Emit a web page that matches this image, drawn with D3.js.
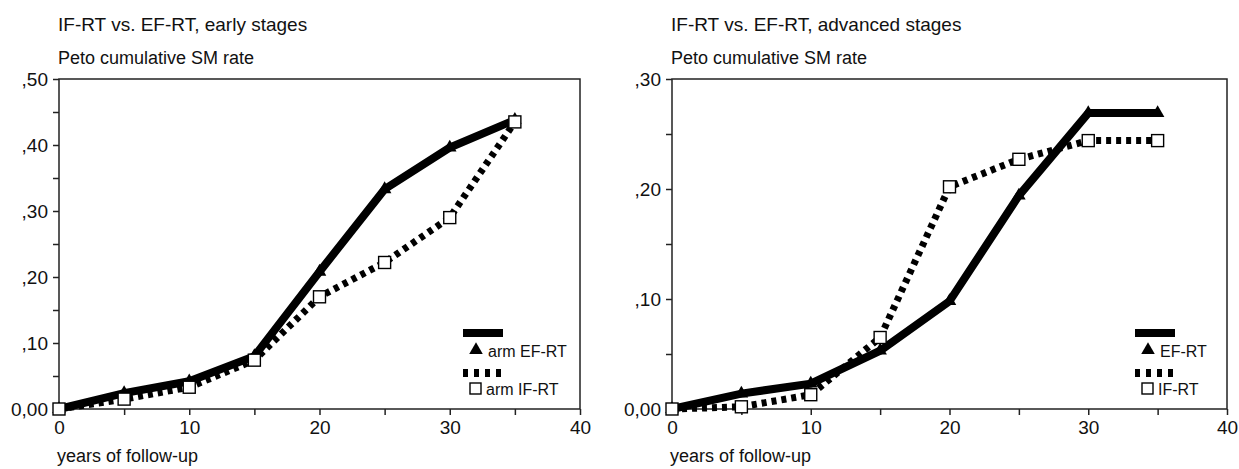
<!DOCTYPE html>
<html>
<head>
<meta charset="utf-8">
<script src="https://cdn.jsdelivr.net/npm/d3@7"></script>
<style>
  body { margin: 0; background: #fff; }
  svg text { font-family: "Liberation Sans", Arial, sans-serif; fill: #111; }
</style>
</head>
<body>
<svg id="chart" width="1239" height="469"></svg>
<script>
// data
const years      = [0, 5, 10, 15, 20, 25, 30, 35];
const earlyEF    = [0, 0.024, 0.042, 0.080, 0.208, 0.333, 0.396, 0.438];
const earlyIF    = [0, 0.015, 0.033, 0.074, 0.170, 0.222, 0.290, 0.435];
const advancedEF = [0, 0.014, 0.023, 0.053, 0.098, 0.194, 0.269, 0.269];
const advancedIF = [0, 0.002, 0.013, 0.065, 0.202, 0.227, 0.244, 0.244];

const titles      = ["IF-RT vs. EF-RT, early stages", "IF-RT vs. EF-RT, advanced stages"];
const yLabel      = "Peto cumulative SM rate";
const xLabel      = "years of follow-up";
const earlyLegend = ["arm EF-RT", "arm IF-RT"];
const advLegend   = ["EF-RT", "IF-RT"];
const yMax        = [0.5, 0.3];
const xTicks      = [0, 10, 20, 30, 40];

const svg = d3.select("#chart");

// panel layout
const panels = [
  { title: titles[0], ef: earlyEF, iF: earlyIF, ymax: yMax[0], legend: earlyLegend,
    x0: 59, x1: 580, legendX: 463 },
  { title: titles[1], ef: advancedEF, iF: advancedIF, ymax: yMax[1], legend: advLegend,
    x0: 672, x1: 1227, legendX: 1135 }
];
const plotTop = 79, plotBottom = 409;

panels.forEach(p => drawPanel(p));

function fmtY(d) {
  if (d === 0) return "0,00";
  return "," + d3.format(".2f")(d).split(".")[1];
}

function drawPanel(p) {
  const x = d3.scaleLinear().domain([0, 40]).range([p.x0, p.x1]);
  const y = d3.scaleLinear().domain([0, p.ymax]).range([plotBottom, plotTop]);
  const g = svg.append("g");

  // titles
  g.append("text").attr("x", p.x0 - 1).attr("y", 31)
    .style("font-size", "19px").text(p.title);
  g.append("text").attr("x", p.x0 - 1).attr("y", 64)
    .style("font-size", "18px").text(yLabel);

  // frame
  g.append("rect")
    .attr("x", p.x0).attr("y", plotTop)
    .attr("width", p.x1 - p.x0).attr("height", plotBottom - plotTop)
    .attr("fill", "none").attr("stroke", "#222").attr("stroke-width", 1.5);

  // y axis: minor ticks every .05, labels every .10
  const yTicks = d3.range(0, p.ymax + 0.001, 0.05);
  const yAxis = d3.axisLeft(y).tickValues(yTicks).tickSize(6).tickPadding(5)
    .tickFormat(d => Math.round(d * 100) % 10 === 0 ? fmtY(Math.round(d * 100) / 100) : "");
  const ya = g.append("g").attr("transform", `translate(${p.x0},0)`).call(yAxis);
  ya.select(".domain").remove();
  ya.selectAll("line").attr("stroke", "#222").attr("stroke-width", 1.5);
  ya.selectAll("text").style("font-size", "19px").attr("fill", "#111");

  // x axis
  const xAxis = d3.axisBottom(x).tickValues(d3.range(0, 41, 5)).tickSize(6).tickPadding(6)
    .tickFormat(d => xTicks.includes(d) ? d : "");
  const xa = g.append("g").attr("transform", `translate(0,${plotBottom})`).call(xAxis);
  xa.select(".domain").remove();
  xa.selectAll("line").attr("stroke", "#222").attr("stroke-width", 1.5);
  xa.selectAll("text").style("font-size", "19px").attr("fill", "#111");

  g.append("text").attr("x", p.x0 - 2).attr("y", 462)
    .style("font-size", "18px").text(xLabel);

  const line = d3.line().x((d, i) => x(years[i])).y(d => y(d));

  // IF-RT dashed
  g.append("path").datum(p.iF).attr("d", line)
    .attr("fill", "none").attr("stroke", "#000").attr("stroke-width", 7)
    .attr("stroke-dasharray", "5,5");
  // EF-RT solid
  g.append("path").datum(p.ef).attr("d", line)
    .attr("fill", "none").attr("stroke", "#000").attr("stroke-width", 8)
    .attr("stroke-linejoin", "miter");

  const tri = d3.symbol().type(d3.symbolTriangle).size(80);
  g.selectAll(".tri").data(p.ef).join("path")
    .attr("transform", (d, i) => `translate(${x(years[i])},${y(d)})`)
    .attr("d", tri).attr("fill", "#000");

  g.selectAll(".sq").data(p.iF).join("rect")
    .attr("x", (d, i) => x(years[i]) - 6).attr("y", d => y(d) - 6)
    .attr("width", 12).attr("height", 12)
    .attr("fill", "#fff").attr("stroke", "#000").attr("stroke-width", 1.4);

  // legend
  const lx = p.legendX;
  g.append("line").attr("x1", lx).attr("x2", lx + 40).attr("y1", 333).attr("y2", 333)
    .attr("stroke", "#000").attr("stroke-width", 8);
  g.append("path").attr("transform", `translate(${lx + 13},350)`).attr("d", tri).attr("fill", "#000");
  g.append("text").attr("x", lx + 25).attr("y", 357).style("font-size", "16px").text(p.legend[0]);

  g.append("line").attr("x1", lx).attr("x2", lx + 40).attr("y1", 373).attr("y2", 373)
    .attr("stroke", "#000").attr("stroke-width", 8).attr("stroke-dasharray", "5,6");
  g.append("rect").attr("x", lx + 7).attr("y", 383).attr("width", 11).attr("height", 11)
    .attr("fill", "#fff").attr("stroke", "#000").attr("stroke-width", 1.4);
  g.append("text").attr("x", lx + 23).attr("y", 395).style("font-size", "16px").text(p.legend[1]);
}
</script>
</body>
</html>
